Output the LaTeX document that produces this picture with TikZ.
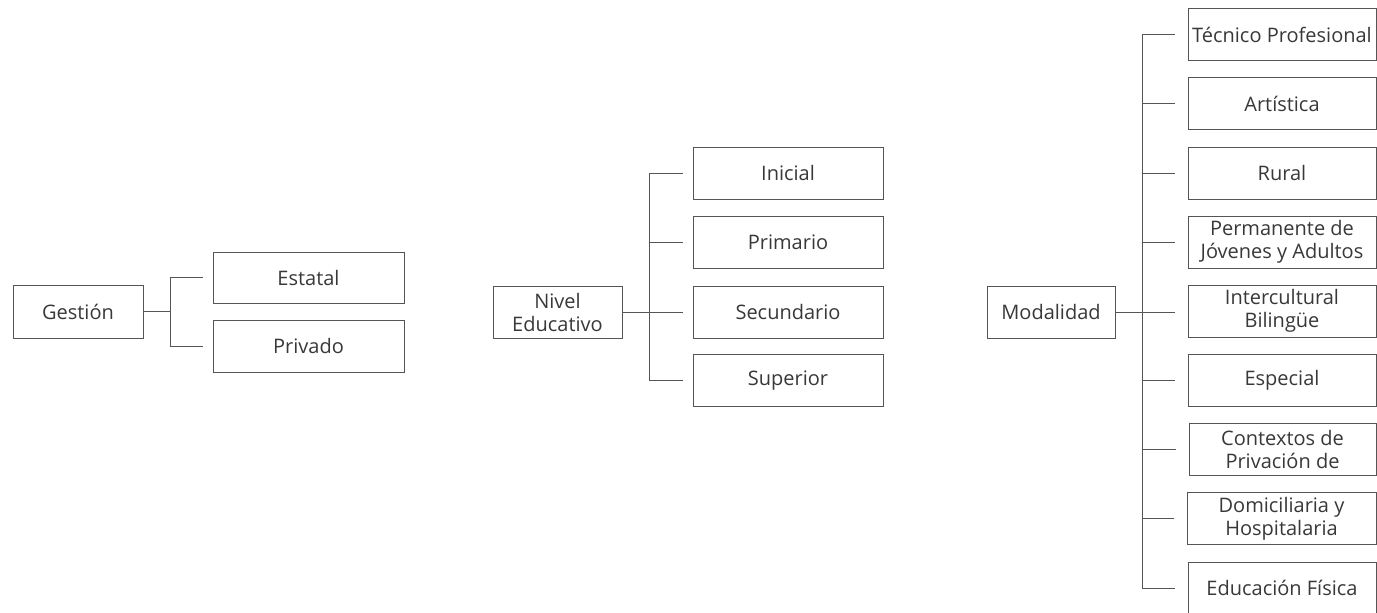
\documentclass[tikz,border=0pt]{standalone}
\usepackage{fontspec}
\setmainfont{Open Sans}
\begin{document}
\begin{tikzpicture}[x=1pt,y=-1pt,
  box/.style={draw=linec, line width=0.8pt, minimum width=#1, minimum height=52pt, inner sep=0pt, align=center, text=txtc, font=\fontsize{20}{23}\selectfont},
  box/.default=190pt,
  conn/.style={draw=linec, line width=0.8pt},
  branch/.style={conn, shorten >=#1},
  branch/.default=10pt]
\definecolor{linec}{HTML}{555555}
\definecolor{txtc}{HTML}{383838}
\useasboundingbox (0,0) rectangle (1377,613);
% Gestion
\node[box=130pt, minimum height=53pt] (ges) at (78,311.5) {Gestión};
\node[box=191pt, minimum height=51pt] (est) at (308.5,277.5) {Estatal};
\node[box=191pt] (pri) at (308.5,346) {Privado};
\coordinate (gj) at (170,311.5);
\draw[conn] (ges.east) -- (gj);
\draw[branch] (gj) |- (est.west);
\draw[branch] (gj) |- (pri.west);
% Nivel
\node[box=129pt] (niv) at (557.5,312) {Nivel\\Educativo};
\node[box] (ini) at (788,173) {Inicial};
\node[box] (prm) at (788,242.5) {Primario};
\node[box] (sec) at (788,312) {Secundario};
\node[box] (sup) at (788,380.5) {Superior};
\coordinate (nj) at (649,312);
\draw[conn] (niv.east) -- (nj);
\draw[branch] (nj) |- (ini.west);
\draw[branch] (nj) |- (prm.west);
\draw[branch] (nj) -- (sec.west);
\draw[branch] (nj) |- (sup.west);
% Modalidad
\node[box=128pt] (mod) at (1051,312) {Modalidad};
\node[box=188pt] (m1) at (1282,34.5) {Técnico Profesional};
\node[box=188pt] (m2) at (1282,103.5) {Artística};
\node[box=188pt] (m3) at (1282,173) {Rural};
\node[box=188pt] (m4) at (1282,242) {Permanente de\\Jóvenes y Adultos};
\node[box=188pt] (m5) at (1282,311) {Intercultural\\Bilingüe};
\node[box=188pt] (m6) at (1282,380) {Especial};
\node[box=187pt] (m7) at (1282.5,449.5) {Contextos de\\Privación de};
\node[box=189pt] (m8) at (1281.5,518.5) {Domiciliaria y\\Hospitalaria};
\node[box=188pt] (m9) at (1282,588) {Educación Física};
\coordinate (mj) at (1142,312);
\draw[conn] (mod.east) -- (mj);
\foreach \n in {m1,m2,m3,m4,m6,m7,m8,m9}{
  \draw[branch=13pt] (mj) |- (\n.west);
}
\draw[conn] (mj) -- (1175,312);
\end{tikzpicture}
\end{document}
